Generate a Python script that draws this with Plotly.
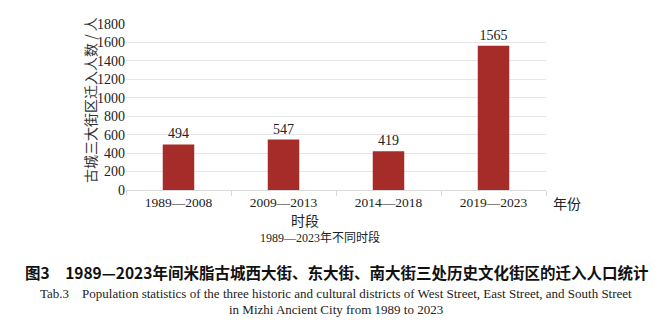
import plotly.graph_objects as go

categories = ["1989—2008", "2009—2013", "2014—2018", "2019—2023"]
values = [494, 547, 419, 1565]
y_ticks = [0, 200, 400, 600, 800, 1000, 1200, 1400, 1600, 1800]

W, H = 671, 331
L, R, T, B = 126, 546, 24, 190
SERIF = "Liberation Serif, Times New Roman, Noto Sans CJK SC"
CJK = "Noto Sans CJK SC, sans-serif"

def px(X):
    return (X - L) / (R - L)

def py(Y):
    return (B - Y) / (B - T)

fig = go.Figure(go.Bar(
    x=categories, y=values, width=0.3,
    marker=dict(color="#A52C29", line=dict(width=0)),
    text=[str(v) for v in values], textposition="outside",
    textfont=dict(family=SERIF, size=14, color="#222"),
    cliponaxis=False,
))

fig.update_layout(
    width=W, height=H,
    margin=dict(l=L, r=W - R, t=T, b=H - B),
    plot_bgcolor="white", paper_bgcolor="white",
    showlegend=False,
    font=dict(family=SERIF, color="#222"),
    xaxis=dict(
        showgrid=False, showline=True, linecolor="#d9d9d9", linewidth=1,
        ticks="outside", tickson="boundaries", ticklen=5, tickcolor="#d9d9d9",
        tickfont=dict(family=SERIF, size=13.5, color="#222"),
    ),
    yaxis=dict(
        range=[0, 1800], tickvals=y_ticks, showgrid=True, gridcolor="#e6e6e6",
        zeroline=False, showline=False, ticks="",
        tickfont=dict(family=SERIF, size=14, color="#222"),
    ),
)

def ann(text, X, Y, size, family=SERIF, angle=0, bold=False, color="#222"):
    if bold:
        text = "<b>" + text + "</b>"
    fig.add_annotation(text=text, x=px(X), y=py(Y), xref="paper", yref="paper",
                       showarrow=False, textangle=angle,
                       font=dict(family=family, size=size, color=color),
                       xanchor="center", yanchor="middle")

ann("古城三大街区迁入人数 / 人", 90, 100, 14, family=CJK, angle=-90, color="#333")
ann("年份", 567, 203, 14, family=CJK)
ann("时段", 305, 220, 14, family=CJK)
ann("1989—2023年不同时段", 320, 237, 12, family=SERIF)
ann("图3　1989—2023年间米脂古城西大街、东大街、南大街三处历史文化街区的迁入人口统计",
    336, 272, 15.5, family=CJK, bold=True, color="#111")
ann("Tab.3　Population statistics of the three historic and cultural districts of West Street, East Street, and South Street",
    336, 293, 13, family=SERIF)
ann("in Mizhi Ancient City from 1989 to 2023", 336, 309, 13, family=SERIF)

fig.write_html("out.html")
